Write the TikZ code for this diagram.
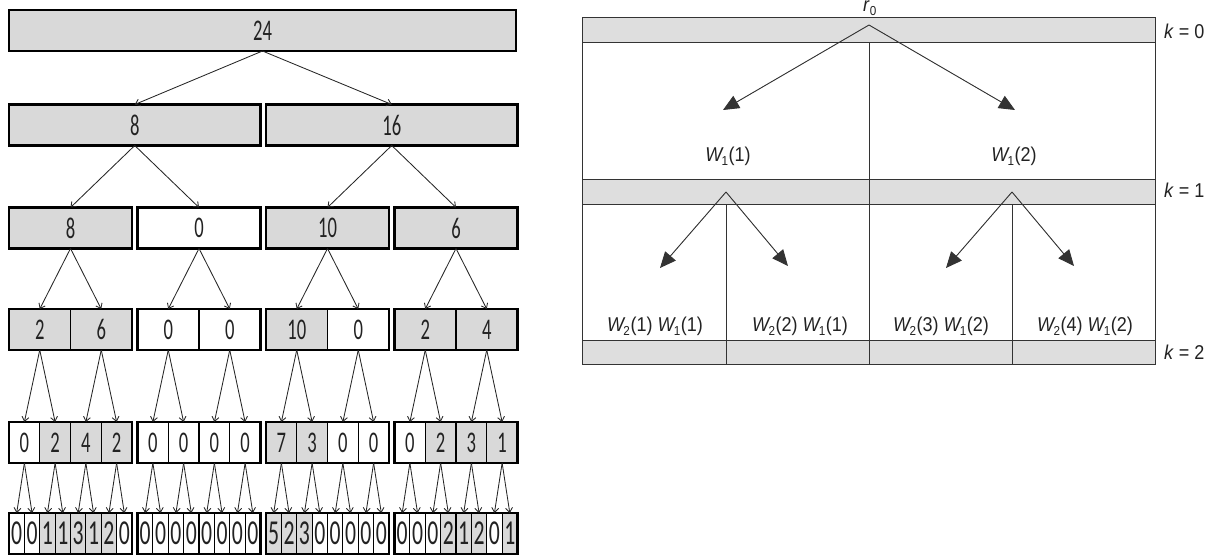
\documentclass[tikz,border=0pt]{standalone}
\usepackage{fontspec}
\setmainfont{Liberation Sans}[FakeStretch=0.9]
\newfontfamily\treefont{Carlito}[FakeStretch=0.62]
\usetikzlibrary{arrows.meta}
\definecolor{cellg}{HTML}{D9D9D9}
\definecolor{cellw}{HTML}{FFFFFF}
\definecolor{bandg}{HTML}{DEDEDE}
\definecolor{linec}{HTML}{333333}
\definecolor{textc}{HTML}{222222}
\newcommand\Wsub[2]{\textit{W}\kern-2pt\raisebox{-4pt}{\fontsize{13}{13}\selectfont #1}\kern0.5pt(#2)}
\begin{document}
\begin{tikzpicture}[x=1pt,y=-1pt,
  tcell/.style={draw=black, line width=1.1pt, inner sep=0pt, outer sep=0pt,
    minimum height=41pt, text=textc, font=\treefont\fontsize{30}{30}\selectfont},
  tbox/.style={tcell, line width=2.4pt},
  tsmall/.style={tcell, font=\treefont\fontsize{35}{35}\selectfont},
  outerbox/.style={draw=black, line width=2.4pt},
  tarr/.style={-{Straight Barb[length=4.5pt,width=7pt]}, line width=0.85pt, draw=black!85},
  rline/.style={draw=linec, line width=1pt},
  rarr/.style={-{Triangle[length=16pt,width=14pt]}, line width=0.9pt, draw=linec, fill=black!90},
  rlab/.style={inner sep=0pt, text=textc, font=\fontsize{20}{20}\selectfont}]
\useasboundingbox (0,0) rectangle (1216,557);
% ---------------- left tree ----------------
\node[tbox, fill=cellg, minimum width=507] (r1) at (262.5,30.5) {24};
\node[tbox, fill=cellg, minimum width=251.5] (r2a) at (134.75,125) {8};
\node[tbox, fill=cellg, minimum width=251.5] (r2b) at (391.75,125) {16};
\foreach \v/\f [count=\g from 0] in {8/g,0/w,10/g,6/g}
  \node[tbox, fill=cell\f, minimum width=123] (r3-\g) at ({70.5+128.5*\g},228) {\v};
\foreach \v/\f [count=\k from 0] in {2/g,6/g,0/w,0/w,10/g,0/w,2/g,4/g} {
  \pgfmathtruncatemacro\g{int(\k/2)}
  \pgfmathtruncatemacro\j{\k-2*\g}
  \node[tcell, fill=cell\f, minimum width=61.5] (r4-\k) at ({9+128.5*\g+61.5*(\j+0.5)},329.5) {\v};
}
\foreach \v/\f [count=\k from 0] in {0/w,2/g,4/g,2/g, 0/w,0/w,0/w,0/w, 7/g,3/g,0/w,0/w, 0/w,2/g,3/g,1/g} {
  \pgfmathtruncatemacro\g{int(\k/4)}
  \pgfmathtruncatemacro\j{\k-4*\g}
  \node[tcell, fill=cell\f, minimum width=30.75] (r5-\k) at ({9+128.5*\g+30.75*(\j+0.5)},442.5) {\v};
}
\foreach \v/\f [count=\k from 0] in {0/w,0/w,1/g,1/g,3/g,1/g,2/g,0/w,
  0/w,0/w,0/w,0/w,0/w,0/w,0/w,0/w,
  5/g,2/g,3/g,0/w,0/w,0/w,0/w,0/w,
  0/w,0/w,0/w,2/g,1/g,2/g,0/w,1/g} {
  \pgfmathtruncatemacro\g{int(\k/8)}
  \pgfmathtruncatemacro\j{\k-8*\g}
  \node[tsmall, fill=cell\f, minimum width=15.375] (r6-\k) at ({9+128.5*\g+15.375*(\j+0.5)},533.5) {\v};
}
\foreach \g in {0,...,3} {
  \pgfmathtruncatemacro\a{2*\g}\pgfmathtruncatemacro\b{2*\g+1}
  \draw[outerbox] (r4-\a.north west) rectangle (r4-\b.south east);
  \pgfmathtruncatemacro\a{4*\g}\pgfmathtruncatemacro\b{4*\g+3}
  \draw[outerbox] (r5-\a.north west) rectangle (r5-\b.south east);
  \pgfmathtruncatemacro\a{8*\g}\pgfmathtruncatemacro\b{8*\g+7}
  \draw[outerbox] (r6-\a.north west) rectangle (r6-\b.south east);
}
% arrows
\draw[tarr] (r1.south) -- (r2a.north);
\draw[tarr] (r1.south) -- (r2b.north);
\draw[tarr] (r2a.south) -- (r3-0.north);
\draw[tarr] (r2a.south) -- (r3-1.north);
\draw[tarr] (r2b.south) -- (r3-2.north);
\draw[tarr] (r2b.south) -- (r3-3.north);
\foreach \g in {0,...,3} {
  \pgfmathtruncatemacro\a{2*\g}\pgfmathtruncatemacro\b{2*\g+1}
  \draw[tarr] (r3-\g.south) -- (r4-\a.north);
  \draw[tarr] (r3-\g.south) -- (r4-\b.north);
}
\foreach \k in {0,...,7} {
  \pgfmathtruncatemacro\a{2*\k}\pgfmathtruncatemacro\b{2*\k+1}
  \draw[tarr] (r4-\k.south) -- (r5-\a.north);
  \draw[tarr] (r4-\k.south) -- (r5-\b.north);
}
\foreach \k in {0,...,15} {
  \pgfmathtruncatemacro\a{2*\k}\pgfmathtruncatemacro\b{2*\k+1}
  \draw[tarr] (r5-\k.south) -- (r6-\a.north);
  \draw[tarr] (r5-\k.south) -- (r6-\b.north);
}
% ---------------- right diagram ----------------
\fill[bandg] (582,17) rectangle (1155,42);
\fill[bandg] (582,179) rectangle (1155,204);
\fill[bandg] (582,340) rectangle (1155,364);
\draw[rline] (582,17) rectangle (1155,364);
\draw[rline] (582,42) -- (1155,42);
\draw[rline] (582,179) -- (1155,179);
\draw[rline] (582,204) -- (1155,204);
\draw[rline] (582,340) -- (1155,340);
\draw[rline] (869,42) -- (869,364);
\draw[rline] (726,204) -- (726,364);
\draw[rline] (1012,204) -- (1012,364);
\coordinate (a0) at (869,25);
\coordinate (a1) at (726,192);
\coordinate (a2) at (1012,192);
\coordinate (t1) at (723,110);
\coordinate (t2) at (1015,110);
\coordinate (t3) at (660,268);
\coordinate (t4) at (788,266);
\coordinate (t5) at (946,268);
\coordinate (t6) at (1074,266);
\draw[rarr] (a0) -- (t1);
\draw[rarr] (a0) -- (t2);
\draw[rarr] (a1) -- (t3);
\draw[rarr] (a1) -- (t4);
\draw[rarr] (a2) -- (t5);
\draw[rarr] (a2) -- (t6);
\node[rlab, anchor=base west] (r0) at (863,11.5) {\textit{r}\raisebox{-4pt}{\fontsize{13}{13}\selectfont 0}};
\node[rlab, anchor=base] (w1) at (728,161.7) {\Wsub{1}{1}};
\node[rlab, anchor=base] (w2) at (1014,161.7) {\Wsub{1}{2}};
\node[rlab, anchor=base] (w3) at (655,331.7) {\Wsub{2}{1} \Wsub{1}{1}};
\node[rlab, anchor=base] (w4) at (800,331.7) {\Wsub{2}{2} \Wsub{1}{1}};
\node[rlab, anchor=base] (w5) at (941,331.7) {\Wsub{2}{3} \Wsub{1}{2}};
\node[rlab, anchor=base] (w6) at (1085,331.7) {\Wsub{2}{4} \Wsub{1}{2}};
\node[rlab, anchor=base west] (k0) at (1164,38.3) {\textit{k} = 0};
\node[rlab, anchor=base west] (k1) at (1164,197.7) {\textit{k} = 1};
\node[rlab, anchor=base west] (k2) at (1164,359) {\textit{k} = 2};
\end{tikzpicture}
\end{document}
